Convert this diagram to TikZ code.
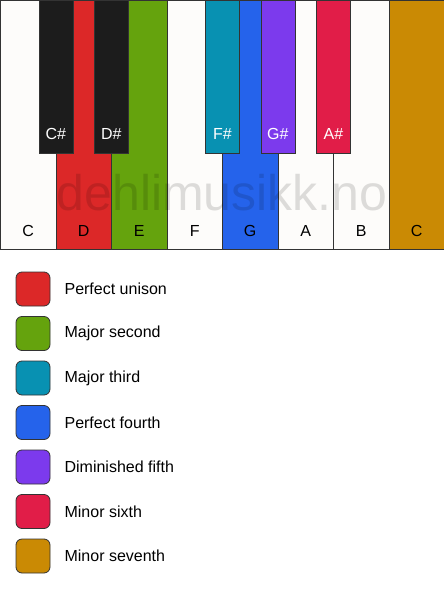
\documentclass[tikz,border=0pt]{standalone}
\usepackage{fontspec}
\setmainfont{Liberation Sans}
\usetikzlibrary{positioning}

\definecolor{keyline}{HTML}{333333}
\definecolor{ivory}{HTML}{FDFCFA}
\definecolor{ebony}{HTML}{1C1C1C}
\definecolor{unison}{HTML}{DC2828}
\definecolor{second}{HTML}{65A30D}
\definecolor{third}{HTML}{0891B2}
\definecolor{fourth}{HTML}{2563EB}
\definecolor{fifth}{HTML}{7C3AED}
\definecolor{sixth}{HTML}{E11D48}
\definecolor{seventh}{HTML}{CA8A04}

\tikzset{
  whitekey/.style={draw=keyline, line width=0.8pt, fill=ivory, rectangle, anchor=north west,
    minimum width=55.5pt, minimum height=249pt, inner sep=0pt},
  blackkey/.style={draw=keyline, line width=0.8pt, fill=ebony, rectangle, anchor=north west,
    minimum width=34pt, minimum height=153pt, inner sep=0pt},
  keyname/.style={font=\fontsize{16}{16}\selectfont, text=black, anchor=center},
  sharpname/.style={keyname, text=white},
  swatch/.style={draw=keyline, line width=0.8pt, rounded corners=6pt, rectangle,
    minimum width=34pt, minimum height=34pt, inner sep=0pt},
  legendtext/.style={font=\fontsize{16}{16}\selectfont, anchor=west, inner sep=0pt}
}

\begin{document}
\begin{tikzpicture}[x=1pt,y=-1pt]
\useasboundingbox[fill=white] (0,0) rectangle (444,594);
% white keys
\node[whitekey] (C)  at (0,0) {};
\node[whitekey, fill=unison] (D)  at (55.5,0) {};
\node[whitekey, fill=second] (E)  at (111,0) {};
\node[whitekey] (F)  at (166.5,0) {};
\node[whitekey, fill=fourth] (G)  at (222,0) {};
\node[whitekey] (A)  at (277.5,0) {};
\node[whitekey] (B)  at (333,0) {};
\node[whitekey, fill=seventh] (C2) at (388.5,0) {};
\node[keyname] (Cname)  at ([yshift=19pt]C.south)  {C};
\node[keyname] (Dname)  at ([yshift=19pt]D.south)  {D};
\node[keyname] (Ename)  at ([yshift=19pt]E.south)  {E};
\node[keyname] (Fname)  at ([yshift=19pt]F.south)  {F};
\node[keyname] (Gname)  at ([yshift=19pt]G.south)  {G};
\node[keyname] (Aname)  at ([yshift=19pt]A.south)  {A};
\node[keyname] (Bname)  at ([yshift=19pt]B.south)  {B};
\node[keyname] (C2name) at ([yshift=19pt]C2.south) {C};
% black keys
\node[blackkey] (Cs) at (38.5,0) {};
\node[blackkey] (Ds) at (94,0) {};
\node[blackkey, fill=third] (Fs) at (205,0) {};
\node[blackkey, fill=fifth] (Gs) at (260.5,0) {};
\node[blackkey, fill=sixth] (As) at (316,0) {};
\node[sharpname] (Csname) at ([yshift=20pt]Cs.south) {C\#};
\node[sharpname] (Dsname) at ([yshift=20pt]Ds.south) {D\#};
\node[sharpname] (Fsname) at ([yshift=20pt]Fs.south) {F\#};
\node[sharpname] (Gsname) at ([yshift=20pt]Gs.south) {G\#};
\node[sharpname] (Asname) at ([yshift=20pt]As.south) {A\#};
% watermark
\node[font=\fontsize{50}{50}\selectfont, text=black, text opacity=0.13] (mark) at (222,193) {dehlimusikk.no};
% legend
\node[swatch, fill=unison]  (Lunison)  at (33,289) {};
\node[swatch, fill=second]  (Lsecond)  at (33,333.5) {};
\node[swatch, fill=third]   (Lthird)   at (33,378) {};
\node[swatch, fill=fourth]  (Lfourth)  at (33,422.5) {};
\node[swatch, fill=fifth]   (Lfifth)   at (33,467) {};
\node[swatch, fill=sixth]   (Lsixth)   at (33,511.5) {};
\node[swatch, fill=seventh] (Lseventh) at (33,556) {};
\node[legendtext, right=14pt of Lunison]  {Perfect unison};
\node[legendtext, right=14pt of Lsecond]  {Major second};
\node[legendtext, right=14pt of Lthird]   {Major third};
\node[legendtext, right=14pt of Lfourth]  {Perfect fourth};
\node[legendtext, right=14pt of Lfifth]   {Diminished fifth};
\node[legendtext, right=14pt of Lsixth]   {Minor sixth};
\node[legendtext, right=14pt of Lseventh] {Minor seventh};
\end{tikzpicture}
\end{document}
